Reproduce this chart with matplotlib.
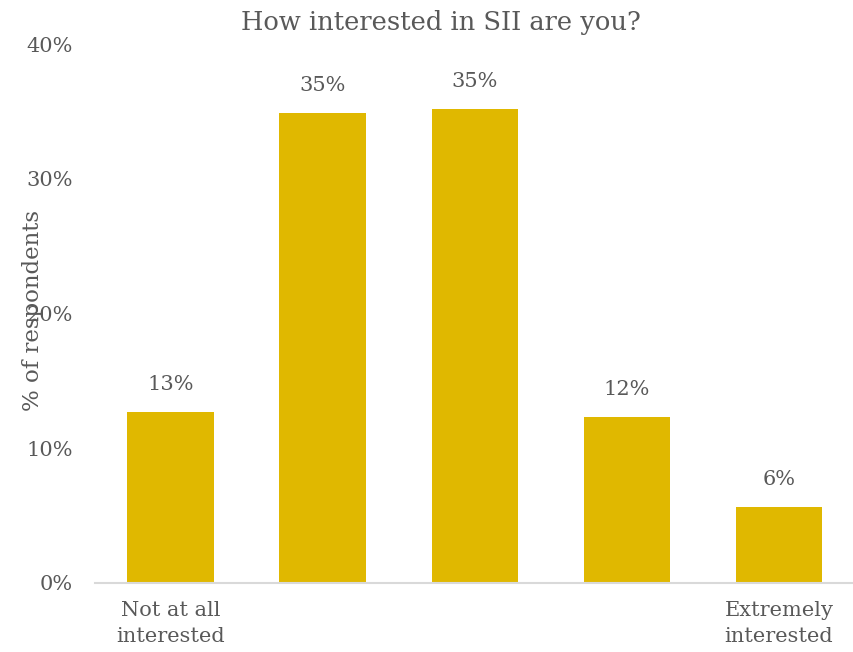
import matplotlib
matplotlib.use('Agg')
import matplotlib.pyplot as plt
from matplotlib.ticker import FuncFormatter

# Survey responses, share of respondents (%)
categories = ['Not at all\ninterested', '', '', '', 'Extremely\ninterested']
shares = [12.7, 34.9, 35.2, 12.3, 5.6]
yticks = [0, 10, 20, 30, 40]

bar_color = '#E0B800'
text_color = '#595959'

plt.rcParams['font.family'] = ['DejaVu Serif']

fig = plt.figure(figsize=(8.54, 6.52), dpi=100)
ax = fig.add_axes([0.111, 0.106, 0.89, 0.826])

x = range(len(shares))
bars = ax.bar(x, shares, width=0.57, color=bar_color, zorder=2)

for b, v in zip(bars, shares):
    ax.annotate(f'{v:.0f}%', (b.get_x() + b.get_width() / 2, v),
                xytext=(0, 20), textcoords='offset points',
                ha='center', va='center', fontsize=15, color=text_color)

ax.set_xlim(-0.5, 4.5)
ax.set_ylim(0, 40)
ax.set_yticks(yticks)
ax.yaxis.set_major_formatter(FuncFormatter(lambda v, _: f'{v:.0f}%'))
ax.set_xticks(list(x))
ax.set_xticklabels(categories, fontsize=15, color=text_color, linespacing=1.5)
ax.tick_params(axis='y', length=0, labelsize=15, labelcolor=text_color, pad=16)
ax.tick_params(axis='x', length=0, pad=13)

for side in ['top', 'right', 'left']:
    ax.spines[side].set_visible(False)
ax.spines['bottom'].set_color('#D9D9D9')
ax.spines['bottom'].set_linewidth(1.5)

fig.text(0.039, 0.5245, '% of respondents', rotation=90, ha='center', va='center',
         fontsize=16.5, color=text_color)
fig.text(0.516, 0.966, 'How interested in SII are you?', ha='center', va='center',
         fontsize=18.5, color=text_color)

plt.savefig('out.png', dpi=100, facecolor='white')
plt.close()
